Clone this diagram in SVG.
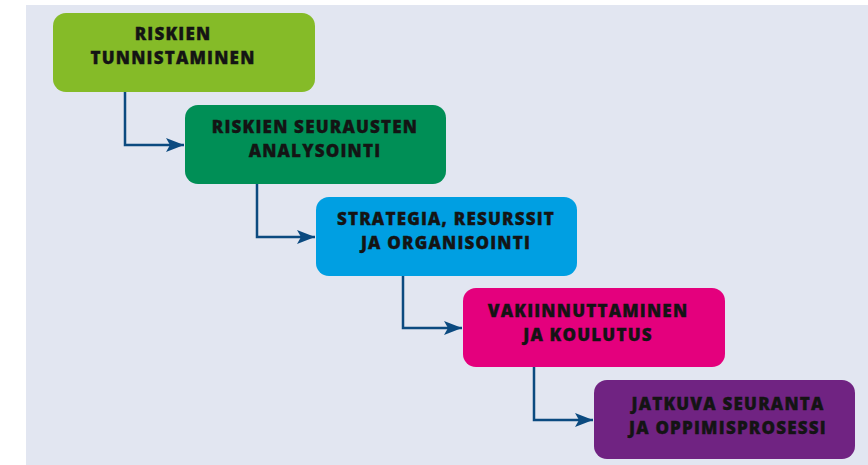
<svg xmlns="http://www.w3.org/2000/svg" width="868" height="465" viewBox="0 0 868 465">
<defs>
<style>
.box{stroke:none}
.t{font-family:"Open Sans","Noto Sans","DejaVu Sans",sans-serif;font-weight:800;font-size:17px;letter-spacing:1.2px;fill:#141414;stroke:#141414;stroke-width:0.35px;text-anchor:middle}
.c{fill:none;stroke:#0b4a80;stroke-width:2.5}
</style>
<marker id="ah" markerWidth="18" markerHeight="14" refX="18" refY="7" orient="auto" markerUnits="userSpaceOnUse">
<path d="M0,0 L18,7 L0,14 L4,7 Z" fill="#0b4a80"/>
</marker>
</defs>
<rect x="0" y="0" width="868" height="465" fill="#ffffff"/>
<rect x="26" y="5" width="842" height="460" fill="#e2e6f1"/>
<g id="connectors">
<path class="c" d="M125,92 V145 H184" marker-end="url(#ah)"/>
<path class="c" d="M257,184 V237 H315" marker-end="url(#ah)"/>
<path class="c" d="M403,276 V328 H462" marker-end="url(#ah)"/>
<path class="c" d="M534,367 V420 H593" marker-end="url(#ah)"/>
</g>
<g id="n1">
<rect class="box" x="53" y="13" width="262" height="79" rx="13" fill="#85bb28"/>
<text class="t" x="173" y="40">RISKIEN</text>
<text class="t" x="173" y="64">TUNNISTAMINEN</text>
</g>
<g id="n2">
<rect class="box" x="185" y="105" width="261" height="79" rx="13" fill="#008f56"/>
<text class="t" x="315" y="133">RISKIEN SEURAUSTEN</text>
<text class="t" x="315" y="157">ANALYSOINTI</text>
</g>
<g id="n3">
<rect class="box" x="316" y="197" width="261" height="79" rx="13" fill="#009fe2"/>
<text class="t" x="446" y="225">STRATEGIA, RESURSSIT</text>
<text class="t" x="446" y="249">JA ORGANISOINTI</text>
</g>
<g id="n4">
<rect class="box" x="463" y="288" width="262" height="79" rx="13" fill="#e4007d"/>
<text class="t" x="588" y="317">VAKIINNUTTAMINEN</text>
<text class="t" x="588" y="341">JA KOULUTUS</text>
</g>
<g id="n5">
<rect class="box" x="594" y="380" width="261" height="79" rx="13" fill="#702382"/>
<text class="t" x="728" y="410">JATKUVA SEURANTA</text>
<text class="t" x="728" y="434">JA OPPIMISPROSESSI</text>
</g>
</svg>
